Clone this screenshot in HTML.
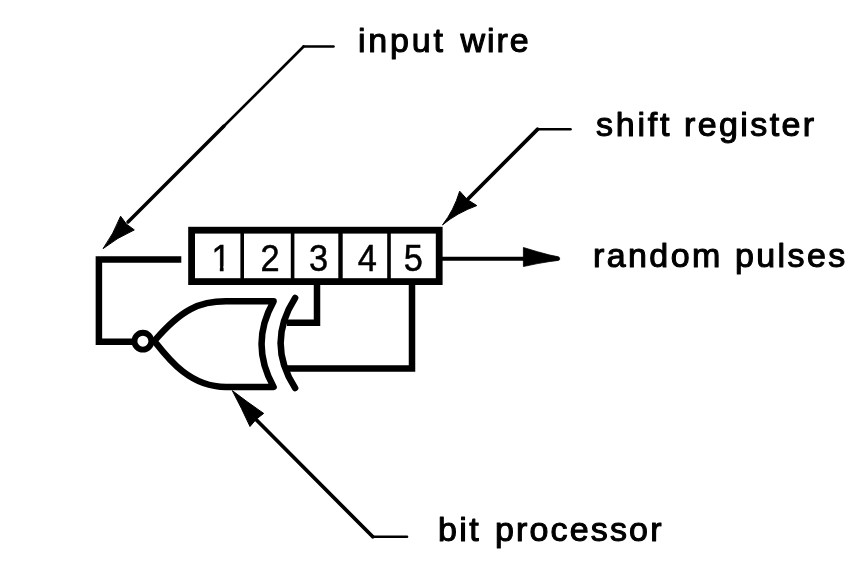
<!DOCTYPE html>
<html>
<head>
<meta charset="utf-8">
<title>shift register random pulse generator</title>
<style>
html,body{margin:0;padding:0;background:#fff;}
body{width:868px;height:577px;overflow:hidden;position:relative;}
svg{position:absolute;left:0;top:0;display:block;will-change:transform;}
text{font-family:"Liberation Sans",sans-serif;fill:#000;}
.lbl{font-size:34px;stroke:#000;stroke-width:1.1px;stroke-linejoin:round;}
.dig{font-size:37px;stroke:#000;stroke-width:0.5px;text-anchor:middle;}
.w{fill:none;stroke:#000;stroke-width:6.5;stroke-linejoin:miter;stroke-linecap:butt;}
.t{fill:none;stroke:#000;stroke-width:3.4;stroke-linejoin:round;stroke-linecap:round;}
</style>
</head>
<body>
<svg width="868" height="577" viewBox="0 0 868 577" xmlns="http://www.w3.org/2000/svg">


<!-- shift register -->
<rect x="191.6" y="230.2" width="247.6" height="51.4" fill="none" stroke="#000" stroke-width="6.8"/>
<path d="M242.2 230V282M292.6 230V282M389 230V282" fill="none" stroke="#000" stroke-width="3.6"/><path d="M340.5 230V282" fill="none" stroke="#000" stroke-width="4.4"/>
<clipPath id="one"><path d="M196 236H240V266H223.55V276H219.85V266H196Z"/></clipPath>
<g clip-path="url(#one)"><text class="dig" transform="translate(221 270.6) scale(0.93 1)">1</text></g>
<text class="dig" transform="translate(270 270.6) scale(0.93 1)">2</text>
<text class="dig" transform="translate(318.6 270.6) scale(0.93 1)">3</text>
<text class="dig" transform="translate(367.2 270.6) scale(0.93 1)">4</text>
<text class="dig" transform="translate(413.2 270.6) scale(0.93 1)">5</text>

<!-- feedback wire -->
<path class="w" d="M181.3 259.4H98.9V341.8H133"/>
<!-- inverter bubble -->
<circle cx="142.9" cy="341.2" r="8.45" fill="#fff" stroke="#000" stroke-width="5.9"/>
<!-- gate body -->
<path class="w" style="stroke-linejoin:round" d="M154.3 341C181.8 308.8 200 301.3 226 301.3H273.6Q249.5 344 273.6 387H226C189.6 387 168.3 358.8 154.3 341Z"/>
<!-- xor arc -->
<path class="w" style="stroke-linecap:round" d="M295.1 297.9Q266.1 343 295.1 388"/>
<!-- tap wires -->
<path class="w" d="M317 282V322.8H287"/>
<path class="w" d="M412 282V368.5H285"/>

<!-- output arrow -->
<path d="M442 258.8H526" fill="none" stroke="#000" stroke-width="4"/>
<path d="M523.4 247.5L537.4 251.7L549.9 255.1L558.4 256.8L559.6 257.8V259.6L558.4 260.4L549.9 261.5L537.4 263.6L523.4 266.5Z" fill="#000" stroke="#000" stroke-width="0.8" stroke-linejoin="round"/>

<!-- input wire pointer -->
<path class="t" style="stroke-width:2.6" d="M333.5 46.5H303.6"/><path class="t" style="stroke-width:2.6" d="M303.6 46.5L222 128"/><path class="t" style="stroke-width:3.5" d="M224 126L128 222"/>
<path d="M103.1 248.6Q113.5 234.1 120.6 216.2L126.4 224.1L134.3 229.9Q117.0 237.6 103.1 248.6Z" fill="#000" stroke="#000" stroke-width="1" stroke-linejoin="round"/>

<!-- shift register pointer -->
<path class="t" style="stroke-width:2.6" d="M570.5 129.3H537.5"/><path class="t" style="stroke-width:3.8" d="M537.5 129.3L468 199"/>
<path d="M442.5 224.9Q453.9 210.4 459.7 191.2L467.2 199.5L476.8 205.6Q456.9 212.9 442.5 224.9Z" fill="#000" stroke="#000" stroke-width="1" stroke-linejoin="round"/>

<!-- bit processor pointer -->
<path class="t" style="stroke-width:2.6" d="M407 536.8H372.8"/><path class="t" style="stroke-width:3.7" d="M372.8 536.8L256 419.5"/>
<path d="M232.3 390.6Q247.6 402.4 263.7 413.4L256.2 419.2L250.0 426.5Q241.6 408.1 232.3 390.6Z" fill="#000" stroke="#000" stroke-width="1" stroke-linejoin="round"/>

<!-- labels -->
<text class="lbl" x="358" y="51.8" letter-spacing="2.8">input</text>
<text class="lbl" x="460.5" y="51.8" letter-spacing="1.9">wire</text>
<text class="lbl" x="596" y="136" letter-spacing="2.75">shift</text>
<text class="lbl" x="684" y="136" letter-spacing="2.4">register</text>
<text class="lbl" x="593" y="266.5" letter-spacing="2.4">random</text>
<text class="lbl" x="735" y="266.5" letter-spacing="2.4">pulses</text>
<text class="lbl" x="438" y="541" letter-spacing="2.4">bit</text>
<text class="lbl" x="495" y="541" letter-spacing="2.15">processor</text>
</svg>
</body>
</html>
